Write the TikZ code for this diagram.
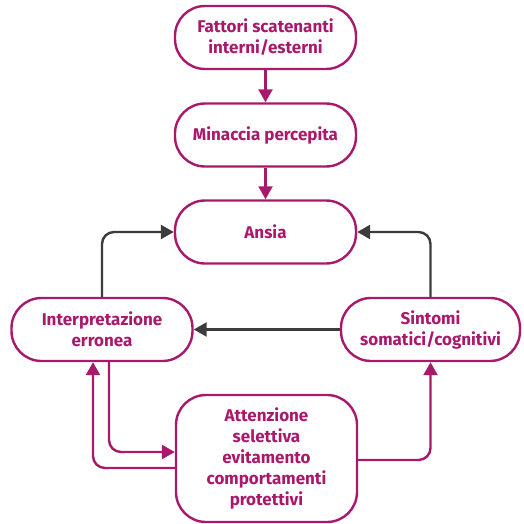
\documentclass[tikz,border=0pt]{standalone}
\usepackage{fontspec}
\setmainfont{Fira Sans}
\usetikzlibrary{arrows.meta}
\definecolor{viola}{HTML}{A8196C}
\definecolor{grigio}{HTML}{3C3C3C}

\begin{document}
\begin{tikzpicture}
		[x=1pt,y=-1pt,
		 >={Triangle[width=14pt,length=13pt]},
		 b/.style= {draw=viola,text=viola,line width=2.4pt,rounded corners=30pt,
			minimum width=181pt,minimum height=63pt,align=center,inner sep=0pt,
			font=\fontsize{17}{21}\selectfont\bfseries},
		 ma/.style= {draw=viola,line width=2.4pt,rounded corners=12pt},
		 ga/.style= {draw=grigio,line width=2.4pt,rounded corners=12pt}]

		\useasboundingbox (0,0) rectangle (523,524);

		\node[b] (fat) at (265.5,37.5) {Fattori scatenanti\\interni/esterni}
		;

		\node[b] (min) at (265.5,135) {Minaccia percepita}
			edge [ma,<-]	(fat)
		;

		\node[b] (ans) at (265.5,232) {Ansia}
			edge [ma,<-]	(min)
		;

		\node[b] (int) at (102,329.5) {Interpretazione\\erronea}
		;

		\node[b,minimum width=179pt] (sin) at (430.5,329.5) {Sintomi\\somatici/cognitivi}
			edge [ga,->]	(int)
		;

		\node[b,minimum height=127pt] (att) at (266.5,458.5)
			{Attenzione\\selettiva\\evitamento\\comportamenti\\protettivi}
		;

		\draw[ga,->] (int.north) |- (ans.west);
		\draw[ga,->] (sin.north) |- (ans.east);

		\draw[ma,->] ([xshift=7pt]int.south) |- ([yshift=6.5pt]att.west);
		\draw[ma,->] ([yshift=-9.5pt]att.west) -| ([xshift=-9pt]int.south);
		\draw[ma,->] ([yshift=-1.5pt]att.east) -| (sin.south);

	\end{tikzpicture}
\end{document}
